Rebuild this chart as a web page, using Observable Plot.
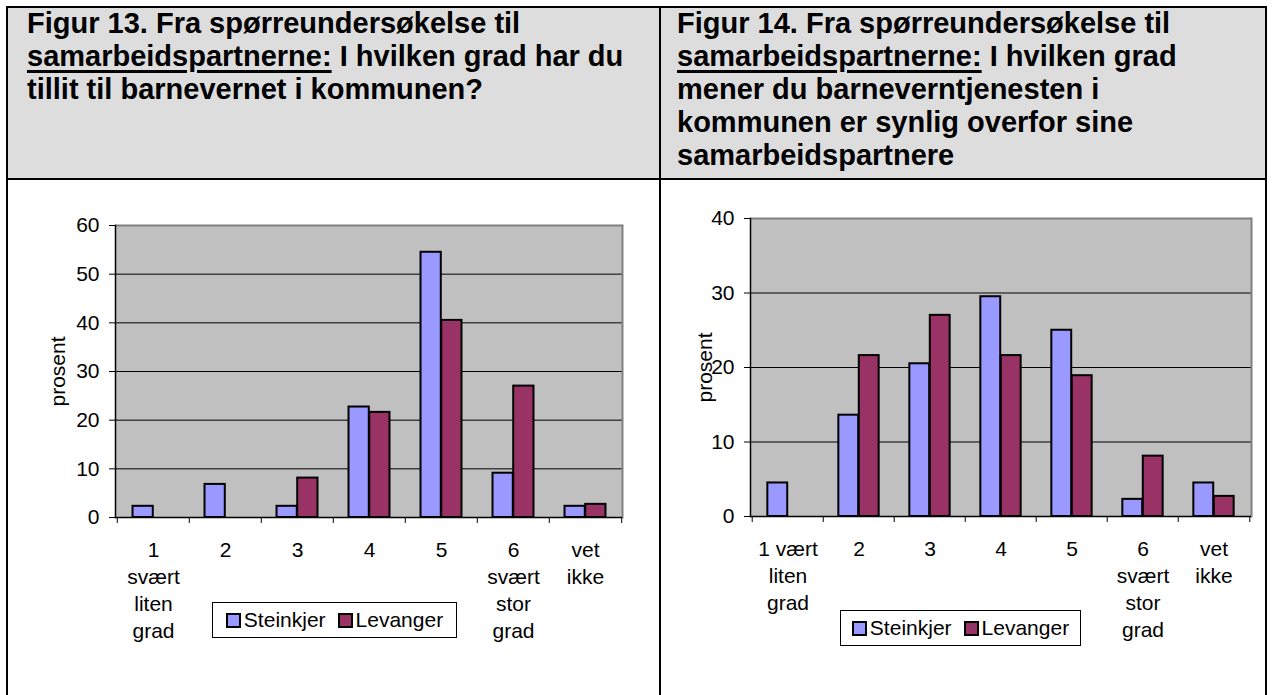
<!DOCTYPE html>
<html>
<head>
<meta charset="utf-8">
<script src="https://cdn.jsdelivr.net/npm/d3@7"></script>
<script src="https://cdn.jsdelivr.net/npm/@observablehq/plot@0.6"></script>
<style>
  body { margin: 0; background: #fff; font-family: "Liberation Sans", Arial, sans-serif; }
  #page { position: relative; width: 1272px; height: 695px; overflow: hidden; background: #fff; }
  .hdr { position: absolute; background: #dddddd; }
  .line { position: absolute; background: #000; }
  .title { position: absolute; font-weight: bold; font-size: 29px; line-height: 33px; color: #000; white-space: nowrap; }
  .title u { text-decoration-thickness: 2.5px; text-underline-offset: 4px; }
  .chart { position: absolute; }
  .legend { position: absolute; box-sizing: border-box; border: 1px solid #000; background: #fff;
            display: flex; align-items: center; justify-content: center; font-size: 21px; color: #000; }
  .legend .item { display: flex; align-items: center; margin: 0 6px; }
  .legend .sw { display: inline-block; width: 11px; height: 11px; border: 2px solid #000; margin-right: 3px; }
</style>
</head>
<body>
<div id="page">
  <div class="hdr" style="left:8px;top:8px;width:651px;height:170px"></div>
  <div class="hdr" style="left:661px;top:8px;width:604px;height:170px"></div>
  <div class="line" style="left:6px;top:6px;width:1261px;height:2px"></div>
  <div class="line" style="left:6px;top:178px;width:1261px;height:2px"></div>
  <div class="line" style="left:6px;top:6px;width:2px;height:700px"></div>
  <div class="line" style="left:659px;top:6px;width:2px;height:700px"></div>
  <div class="line" style="left:1265px;top:6px;width:2px;height:700px"></div>
  <div class="title" id="t1" style="left:27px;top:7px"></div>
  <div class="title" id="t2" style="left:677px;top:7px"></div>
  <div class="chart" id="c1" style="left:0px;top:180px"></div>
  <div class="chart" id="c2" style="left:661px;top:180px"></div>
  <div class="legend" id="l1" style="left:212px;top:602px;width:245px;height:36px"></div>
  <div class="legend" id="l2" style="left:840px;top:610px;width:241px;height:36px"></div>
</div>
<script>
// ---- data ----
const categories = ["1", "2", "3", "4", "5", "6", "vet"];
const tickLabels13 = ["1\nsvært\nliten\ngrad", "2", "3", "4", "5", "6\nsvært\nstor\ngrad", "vet\nikke"];
const tickLabels14 = ["1 vært\nliten\ngrad", "2", "3", "4", "5", "6\nsvært\nstor\ngrad", "vet\nikke"];
const series = ["Steinkjer", "Levanger"];
const seriesColors = ["#9999ff", "#993366"];
const steinkjer13 = [2.3, 6.8, 2.3, 22.7, 54.5, 9.1, 2.3];
const levanger13  = [0, 0, 8.1, 21.6, 40.5, 27.0, 2.7];
const steinkjer14 = [4.5, 13.6, 20.5, 29.5, 25.0, 2.3, 4.5];
const levanger14  = [0, 21.6, 27.0, 21.6, 18.9, 8.1, 2.7];
const yTicks13 = [0, 10, 20, 30, 40, 50, 60];
const yTicks14 = [0, 10, 20, 30, 40];
const yLabel = "prosent";
const title13 = 'Figur 13. Fra spørreundersøkelse til<br><u>samarbeidspartnerne:</u> I hvilken grad har du<br>tillit til barnevernet i kommunen?';
const title14 = 'Figur 14. Fra spørreundersøkelse til<br><u>samarbeidspartnerne:</u> I hvilken grad<br>mener du barneverntjenesten i<br>kommunen er synlig overfor sine<br>samarbeidspartnere';

const gapWidth = 1.5; // Excel gap width 150%

function chart({values, tickLabels, yTicks, width, height, ml, mr, mt, mb, labelDx}) {
  const rows = [];
  categories.forEach((c, i) => series.forEach((s, k) => rows.push({cat: c, series: s, value: values[k][i]})));
  const yMax = yTicks[yTicks.length - 1];
  const step = (width - ml - mr) / categories.length;
  const bw = step / (series.length + gapWidth);
  const bars = series.map((s, k) => Plot.barY(rows.filter(d => d.series === s && d.value > 0), {
    x: "cat", y: "value", fill: seriesColors[k], stroke: "#000", strokeWidth: 2,
    insetLeft: bw * (gapWidth / 2 + k), insetRight: bw * (gapWidth / 2 + series.length - 1 - k)
  }));
  return Plot.plot({
    width, height, marginLeft: ml, marginRight: mr, marginTop: mt, marginBottom: mb,
    style: {fontFamily: '"Liberation Sans", Arial, sans-serif', fontSize: "21px", background: "transparent", color: "#000", overflow: "visible"},
    x: {type: "band", domain: categories, padding: 0},
    y: {domain: [0, yMax]},
    marks: [
      Plot.frame({fill: "#c0c0c0", stroke: "none"}),
      Plot.ruleY(yTicks.filter(v => v > 0 && v < yMax), {stroke: "#000", strokeWidth: 1}),
      Plot.ruleY([yMax], {stroke: "#808080", strokeWidth: 2}),
      Plot.frame({anchor: "right", stroke: "#808080", strokeWidth: 2}),
      ...bars,
      Plot.frame({anchor: "left", stroke: "#000", strokeWidth: 1.5}),
      Plot.ruleY([0], {stroke: "#000", strokeWidth: 1.5}),
      Plot.axisY({ticks: yTicks, tickSize: 6, tickPadding: 10, label: null, tickFormat: d => String(d)}),
      Plot.axisX({ticks: categories, tickSize: 0, tickPadding: 20, label: null, lineHeight: 27 / 21,
                  tickFormat: d => tickLabels[categories.indexOf(d)]}),
      Plot.axisX({ticks: categories, tickSize: 6, fill: "none", dx: -step / 2, label: null}),
      Plot.axisX({ticks: [categories[categories.length - 1]], tickSize: 6, fill: "none", dx: step / 2, label: null}),
      Plot.text([yLabel], {frameAnchor: "left", textAnchor: "middle", rotate: -90, dx: labelDx, fill: "#000"})
    ]
  });
}

function legend(el) {
  series.forEach((s, k) => {
    const it = document.createElement("span");
    it.className = "item";
    const sw = document.createElement("span");
    sw.className = "sw";
    sw.style.background = seriesColors[k];
    it.appendChild(sw);
    it.appendChild(document.createTextNode(s));
    el.appendChild(it);
  });
}

document.getElementById("t1").innerHTML = title13;
document.getElementById("t2").innerHTML = title14;

document.getElementById("c1").appendChild(chart({
  values: [steinkjer13, levanger13], tickLabels: tickLabels13, yTicks: yTicks13,
  width: 659, height: 515, ml: 115, mr: 37, mt: 45, mb: 178, labelDx: -57
}));
document.getElementById("c2").appendChild(chart({
  values: [steinkjer14, levanger14], tickLabels: tickLabels14, yTicks: yTicks14,
  width: 604, height: 515, ml: 89, mr: 14, mt: 38, mb: 179, labelDx: -45
}));
legend(document.getElementById("l1"));
legend(document.getElementById("l2"));
</script>
</body>
</html>
